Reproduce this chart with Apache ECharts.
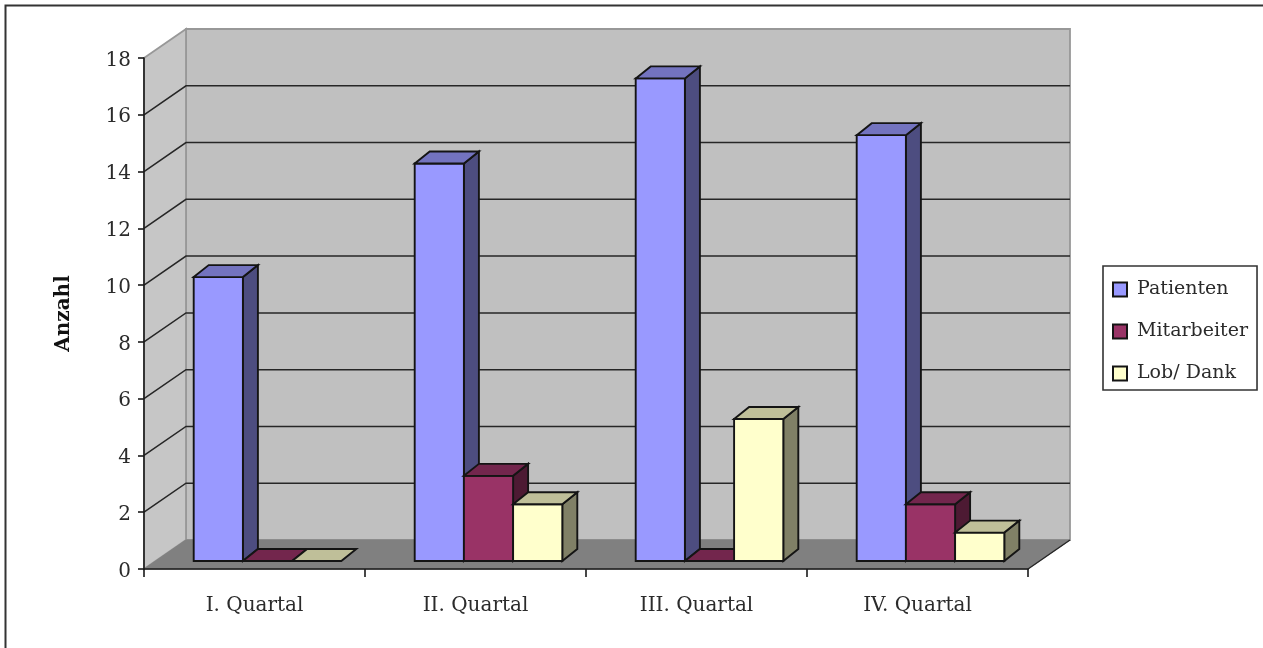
<!DOCTYPE html>
<html>
<head>
<meta charset="utf-8">
<style>
  html, body { margin: 0; padding: 0; background: #fff; }
  #chart { width: 1263px; height: 648px; }
</style>
<script src="https://cdn.jsdelivr.net/npm/echarts@6/dist/echarts.min.js"></script>
</head>
<body>
<div id="chart"></div>
<script>
const quarters = ['I. Quartal', 'II. Quartal', 'III. Quartal', 'IV. Quartal'];
const patienten = [10, 14, 17, 15];
const mitarbeiter = [0, 3, 0, 2];
const lobDank = [0, 2, 5, 1];
const wallLines = [2, 4, 6, 8, 10, 12, 14, 16];

// Pseudo-3D projection offsets, in pixels
const ROOM_DX = 42, ROOM_DY = 29;      // depth of the chart room
const BAR_DX = 15, BAR_DY = 12;        // depth of each column
const BAR_SHIFT_X = 13, BAR_SHIFT_Y = 8; // columns stand in the middle of the floor
const BAR_W = 49.2;

const poly = (points, fill, stroke, width) => ({
  type: 'polygon',
  shape: { points },
  style: { fill, stroke, lineWidth: width === undefined ? 1.9 : width, lineJoin: 'miter' }
});

function renderRoom(params, api) {
  const r = params.coordSys;
  const l = r.x, b = r.y + r.height, t = r.y, w = r.width;
  return {
    type: 'group',
    children: [
      poly([[l + ROOM_DX, t - ROOM_DY], [l + w + ROOM_DX, t - ROOM_DY], [l + w + ROOM_DX, b - ROOM_DY], [l + ROOM_DX, b - ROOM_DY]], '#c0c0c0', '#989898', 1.8),
      poly([[l, t], [l + ROOM_DX, t - ROOM_DY], [l + ROOM_DX, b - ROOM_DY], [l, b]], '#c6c6c6', '#989898', 1.8),
      poly([[l, b], [l + ROOM_DX, b - ROOM_DY], [l + w + ROOM_DX, b - ROOM_DY], [l + w, b]], '#808080', '#808080', 1)
    ]
  };
}

function renderGridLine(params, api) {
  const r = params.coordSys;
  const y = api.coord([0, api.value(0)])[1];
  return {
    type: 'polyline',
    shape: { points: [[r.x, y], [r.x + ROOM_DX, y - ROOM_DY], [r.x + r.width + ROOM_DX, y - ROOM_DY]] },
    style: { fill: null, stroke: '#262626', lineWidth: 1.5 }
  };
}

function renderFloorEdge(params, api) {
  const r = params.coordSys;
  const b = r.y + r.height;
  return {
    type: 'polyline',
    shape: { points: [[r.x + r.width, b], [r.x + r.width + ROOM_DX, b - ROOM_DY]] },
    style: { fill: null, stroke: '#262626', lineWidth: 1.4 }
  };
}

function columnRenderer(slot, front, top, side) {
  return function (params, api) {
    const cat = api.value(0);
    const val = api.value(1);
    const center = api.coord([cat, 0])[0] + BAR_SHIFT_X;
    const x0 = center - 1.5 * BAR_W + slot * BAR_W;
    const x1 = x0 + BAR_W;
    const y0 = api.coord([cat, 0])[1] - BAR_SHIFT_Y;
    const y1 = api.coord([cat, val])[1] - BAR_SHIFT_Y;
    const children = [];
    if (val > 0) {
      children.push(poly([[x1, y1], [x1 + BAR_DX, y1 - BAR_DY], [x1 + BAR_DX, y0 - BAR_DY], [x1, y0]], side, '#141414'));
      children.push(poly([[x0, y1], [x1, y1], [x1, y0], [x0, y0]], front, '#141414'));
    }
    children.push(poly([[x0, y1], [x0 + BAR_DX, y1 - BAR_DY], [x1 + BAR_DX, y1 - BAR_DY], [x1, y1]], top, '#141414'));
    return { type: 'group', children };
  };
}

const barSeries = (name, values, slot, front, top, side) => ({
  name,
  type: 'custom',
  coordinateSystem: 'cartesian2d',
  renderItem: columnRenderer(slot, front, top, side),
  itemStyle: { color: front, borderColor: '#141414', borderWidth: 1.6 },
  encode: { x: 0, y: 1 },
  data: values.map((v, i) => [i, v]),
  z: 5
});

const helperSeries = (renderItem, data, z) => ({
  type: 'custom',
  coordinateSystem: 'cartesian2d',
  renderItem,
  data,
  silent: true,
  z
});

const textFont = 'DejaVu Serif';
const textColor = '#2b2b2b';

const chart = echarts.init(document.getElementById('chart'), null, { renderer: 'canvas' });
chart.setOption({
  animation: false,
  backgroundColor: '#ffffff',
  graphic: [{
    type: 'rect',
    shape: { x: 5.5, y: 5.5, width: 1300, height: 700 },
    style: { fill: 'none', stroke: '#333333', lineWidth: 2 },
    z: 0
  }],
  grid: { left: 144, top: 58, width: 884, height: 511 },
  xAxis: {
    type: 'category',
    data: quarters,
    axisLine: { show: true, lineStyle: { color: '#1a1a1a', width: 1.6 } },
    axisTick: { show: true, length: 8, lineStyle: { color: '#1a1a1a', width: 1.6 } },
    axisLabel: { color: textColor, fontFamily: textFont, fontSize: 20, margin: 27 },
    z: 6
  },
  yAxis: {
    type: 'value',
    min: 0,
    max: 18,
    interval: 2,
    name: 'Anzahl',
    nameLocation: 'middle',
    nameGap: 70,
    nameRotate: 90,
    nameTextStyle: { color: '#111', fontFamily: textFont, fontSize: 20, fontWeight: 'bold' },
    splitLine: { show: false },
    axisLine: { show: true, lineStyle: { color: '#1a1a1a', width: 1.6 } },
    axisTick: { show: true, length: 6, lineStyle: { color: '#1a1a1a', width: 1.6 } },
    axisLabel: {
      margin: 13,
      formatter: '{tick|{value}}',
      rich: { tick: { color: textColor, fontFamily: textFont, fontSize: 20, padding: [5, 0, 0, 0] } }
    },
    z: 6
  },
  legend: {
    orient: 'vertical',
    left: 1103,
    top: 266,
    padding: [14, 9, 7, 9],
    itemGap: 23,
    itemWidth: 14,
    itemHeight: 14,
    borderColor: '#333333',
    borderWidth: 1.6,
    backgroundColor: '#fff',
    textStyle: { color: textColor, fontFamily: textFont, fontSize: 19, padding: [0, 0, 0, 5] },
    data: ['Patienten', 'Mitarbeiter', 'Lob/ Dank'].map(name => ({ name, icon: 'rect' }))
  },
  series: [
    helperSeries(renderRoom, [[0, 0]], 1),
    helperSeries(renderGridLine, wallLines.map(v => [v]), 2),
    helperSeries(renderFloorEdge, [[0, 0]], 2),
    barSeries('Patienten', patienten, 0, '#9999ff', '#7373bf', '#4d4d80'),
    barSeries('Mitarbeiter', mitarbeiter, 1, '#993366', '#73264d', '#4d1a33'),
    barSeries('Lob/ Dank', lobDank, 2, '#ffffcc', '#bfbf99', '#808066')
  ]
});
</script>
</body>
</html>
